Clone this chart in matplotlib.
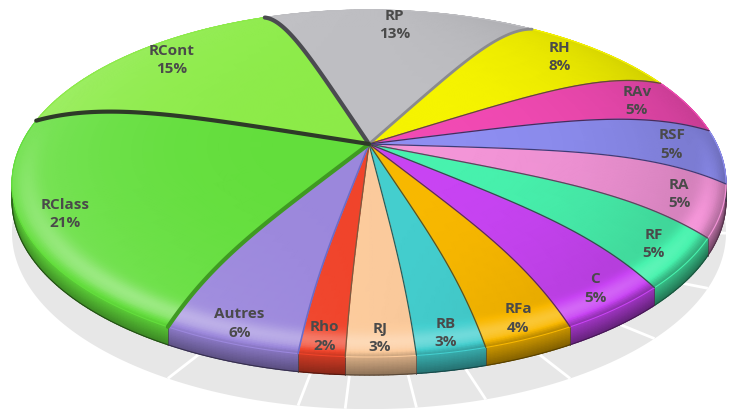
import numpy as np
import matplotlib
matplotlib.use("Agg")
import matplotlib.pyplot as plt
import matplotlib.tri as mtri
from matplotlib.colors import LinearSegmentedColormap, to_rgb

# ---- data -------------------------------------------------------------
labels = ["RP", "RH", "RAv", "RSF", "RA", "RF", "C", "RFa", "RB", "RJ",
          "Rho", "Autres", "RClass", "RCont"]
shares = [13, 8, 5, 5, 5, 5, 5, 4, 3, 3, 2, 6, 21, 15]
colors = ["#BEBEC2", "#F7F500", "#F24AB3", "#8E8EF2", "#F495D8", "#48F3AE",
          "#C944F4", "#F9B800", "#44CFCF", "#FCCB9C", "#F0442A", "#9B87DC",
          "#63DE3C", "#8CEB48"]

# separator drawn at the start of each slice: (colour, width)
separators = [("#4b4b50", 3.0), ("#8a8a8e", 2.0), ("#5e5030", 0.9),
              ("#4a2a5a", 0.9), ("#3c3c78", 0.9), ("#6a3a60", 0.9),
              ("#2a5a44", 0.9), ("#5a2070", 0.9), ("#6a5010", 0.9),
              ("#206060", 0.9), ("#7a5a40", 0.9), ("#6c6cc8", 1.2),
              ("#3f9a22", 3.0), ("#2e3a28", 3.0)]

# ---- geometry of the tilted, slightly domed disc (pixel space) ---------
W, H = 734, 410
PERSP = 0.06
TOP_Y, FRONT_Y = 11.0, 358.0
RY = (FRONT_Y - TOP_Y) / (1 / (1 + PERSP) + 1 / (1 - PERSP))
CY = TOP_Y + RY / (1 + PERSP)
CX = 369.0
RX = 357.0 * np.sqrt(1 - PERSP ** 2)
APEX_Y = 145.0
LIFT = CY - APEX_Y
WALL = 17.0
FLOOR_DROP = 32.0
START = np.deg2rad(108.0)


def project(r, th, drop=0.0, lift=True):
    depth = -r * np.sin(th)
    s = 1.0 / (1.0 - PERSP * depth)
    x = CX + RX * r * np.cos(th) * s
    y = CY + RY * depth * s + drop * s
    if lift:
        y = y - LIFT * (1.0 - r ** 5) * s
    return x, y


def shade_map(c):
    c = np.array(to_rgb(c))
    dark = c * 0.35
    light = c + (1 - c) * 0.6
    return LinearSegmentedColormap.from_list("s", [dark, c, light])


def grid_tri(nu, nv):
    tris = []
    for i in range(nu - 1):
        for j in range(nv - 1):
            a = i * nv + j
            b = a + 1
            c = a + nv
            d = c + 1
            tris.append((a, c, d))
            tris.append((a, d, b))
    return np.array(tris)


fig = plt.figure(figsize=(W / 100, H / 100), dpi=100)
ax = fig.add_axes([0, 0, 1, 1])
ax.set_xlim(0, W)
ax.set_ylim(H, 0)
ax.axis("off")

fractions = np.array(shares, dtype=float) / np.sum(shares)
ends = START - 2 * np.pi * np.cumsum(fractions)
starts = np.concatenate([[START], ends[:-1]])

# ---- floor shadow -----------------------------------------------------
tt = np.linspace(0, 2 * np.pi, 400)
fx, fy = project(1.0, tt, drop=WALL + FLOOR_DROP, lift=False)
ax.fill(fx, fy, color="#E7E7E7", lw=0, zorder=1)
ox, oy = project(0.0, 0.0, drop=WALL + FLOOR_DROP, lift=False)
for a0 in starts:
    ex, ey = project(1.0, a0, drop=WALL + FLOOR_DROP, lift=False)
    ax.plot([ox, ex], [oy, ey], color="white", lw=2.0, zorder=2,
            solid_capstyle="butt")

# ---- slices -----------------------------------------------------------
r_grid = np.concatenate([np.linspace(0.0, 0.88, 30),
                         np.linspace(0.88, 1.0, 25)[1:]])
for k in range(len(labels)):
    a0, a1 = starts[k], ends[k]
    nth = max(6, int(np.degrees(a0 - a1) * 1.5))
    th = np.linspace(a0, a1, nth)
    cmap = shade_map(colors[k])

    # outer wall
    tw = np.linspace(0, 1, 12)
    T, TH = np.meshgrid(tw, th, indexing="ij")
    wx, wy = project(1.0, TH, drop=T * WALL, lift=False)
    wv = -0.22 - 0.45 * T + 0.14 * (-np.cos(TH))
    tri = mtri.Triangulation(wx.ravel(), wy.ravel(), grid_tri(len(tw), nth))
    ax.tripcolor(tri, wv.ravel(), cmap=cmap, vmin=-1, vmax=1,
                 shading="gouraud", zorder=3)
    bx, by = project(1.0, th, drop=WALL, lift=False)
    ax.plot(bx, by, color=np.array(to_rgb(colors[k])) * 0.35, lw=0.8,
            zorder=3.1)

    # top surface
    R, TH = np.meshgrid(r_grid, th, indexing="ij")
    px, py = project(R, TH)
    front = np.clip(-np.sin(TH) + 0.25, 0, 1)
    v = (-0.28 * np.cos(TH) * R ** 3
         + 0.45 * front * np.exp(-((R - 0.955) / 0.03) ** 2)
         - 0.35 * front * np.clip((R - 0.975) / 0.025, 0, 1))
    tri = mtri.Triangulation(px.ravel(), py.ravel(),
                             grid_tri(len(r_grid), nth))
    ax.tripcolor(tri, v.ravel(), cmap=cmap, vmin=-1, vmax=1,
                 shading="gouraud", zorder=5)
    rx_, ry_ = project(1.0, th)
    ax.plot(rx_, ry_, color=colors[k], lw=0.8, zorder=5.1)

# separators on the wall (front only) and on the top
rr = np.linspace(0, 1, 80)
for a0, (sc, sw) in zip(starts, separators):
    if np.sin(a0) < -0.05:
        x0, y0 = project(1.0, a0, lift=False)
        x1, y1 = project(1.0, a0, drop=WALL, lift=False)
        ax.plot([x0, x1], [y0, y1], color="#3a3a3a", lw=0.7, alpha=0.6,
                zorder=4)
    sx, sy = project(rr, np.full_like(rr, a0))
    ax.plot(sx, sy, color=sc, lw=sw, zorder=6, solid_capstyle="round")

# ---- labels -----------------------------------------------------------
for k, name in enumerate(labels):
    mid = 0.5 * (starts[k] + ends[k])
    rl = 0.865 - 0.075 * np.sin(mid)
    lx, ly = project(rl, mid)
    ax.text(lx, ly, f"{name}\n{shares[k]}%", ha="center", va="center",
            fontsize=11, fontweight="bold", family=["Open Sans", "DejaVu Sans"],
            color="#4a4a4a", linespacing=1.42, zorder=7)

fig.savefig("out.png", dpi=100)
